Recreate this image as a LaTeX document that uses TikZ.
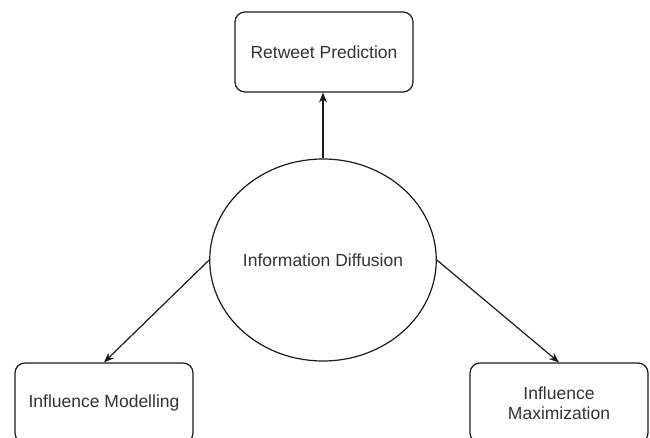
\documentclass[tikz,border=0pt]{standalone}
\usepackage{fontspec}
\setmainfont{Liberation Sans}
\usepackage{xcolor}
\definecolor{cLine}{HTML}{1A1A1A}
\definecolor{cText}{HTML}{333333}
\usetikzlibrary{positioning,arrows.meta,shapes.geometric}
\tikzset{
  node-box/.style={draw=cLine,line width=1.2pt,rounded corners=10pt,
    minimum width=178pt,minimum height=80pt,inner sep=0pt,
    align=center,text=cText},
  node-topic/.style={draw=cLine,line width=1.2pt,ellipse,
    minimum width=220pt,minimum height=202pt,inner sep=0pt,
    align=center,text=cText},
  arrow/.style={-{Stealth[length=10pt,width=8pt]},line width=1.2pt,draw=cLine},
}
\begin{document}
\begin{tikzpicture}[x=1pt,y=-1pt,
    every node/.style={font=\fontsize{17.5}{20}\selectfont}]
  \useasboundingbox (0,0) rectangle (650,438);
  \node[node-topic] (diff) at (323,260) {Information Diffusion};
  \node[node-box]   (rt)   at (324,52)  {Retweet Prediction};
  \node[node-box]   (im)   at (104,403) {Influence Modelling};
  \node[node-box]   (imax) at (559,403) {Influence\\Maximization};
  \draw[arrow] (diff.north) -- (diff.north |- rt.south);
  \draw[arrow] (diff.west) -- (im.north);
  \draw[arrow] (diff.east) -- (imax.north);
\end{tikzpicture}
\end{document}
